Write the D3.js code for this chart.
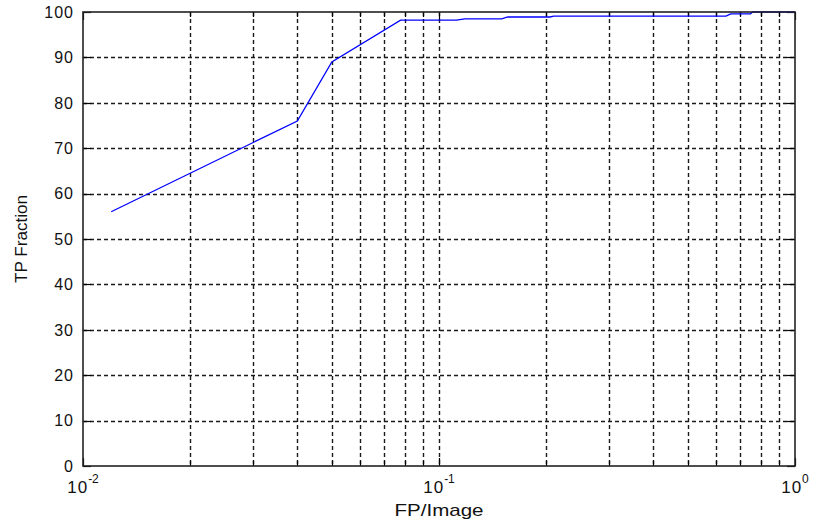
<!DOCTYPE html>
<html>
<head>
<meta charset="utf-8">
<script src="https://cdn.jsdelivr.net/npm/d3@7"></script>
<style>
  html, body { margin: 0; padding: 0; background: #fff; }
  svg { display: block; }
  text { font-family: "Liberation Sans", Arial, sans-serif; fill: #111; }
</style>
</head>
<body>
<svg id="chart" width="814" height="526"></svg>
<script>
// FP per image (log scale) vs. true-positive fraction (%)
const fpPerImage = [0.012, 0.04, 0.05, 0.078, 0.112, 0.118, 0.150, 0.156, 0.205, 0.21, 0.64, 0.66, 0.75, 0.76, 1.0];
const tpFraction = [56, 76, 89, 98.2, 98.2, 98.5, 98.5, 98.9, 98.9, 99.1, 99.1, 99.6, 99.6, 100, 100];

const yTicks = [0, 10, 20, 30, 40, 50, 60, 70, 80, 90, 100];
const xDecades = [0.01, 0.1, 1];
const xDecadeExponents = ["-2", "-1", "0"];
const xMinor = [0.02, 0.03, 0.04, 0.05, 0.06, 0.07, 0.08, 0.09, 0.2, 0.3, 0.4, 0.5, 0.6, 0.7, 0.8, 0.9];

const xLabel = "FP/Image";
const yLabel = "TP Fraction";

const plotL = 83, plotR = 795, plotT = 12, plotB = 466;
const svg = d3.select("#chart");

const x = d3.scaleLog().domain([0.01, 1]).range([plotL, plotR]);
const y = d3.scaleLinear().domain([0, 100]).range([plotB, plotT]);

const gridDash = "4,3";
const gridColor = "#1a1a1a";
const gridWidth = 1.4;

// Vertical grid lines (decades and in-between values)
const vGrid = [...xMinor, 0.1];
svg.append("g")
  .selectAll("line")
  .data(vGrid)
  .join("line")
  .attr("x1", d => Math.round(x(d)) + 0.5)
  .attr("x2", d => Math.round(x(d)) + 0.5)
  .attr("y1", plotT)
  .attr("y2", plotB)
  .attr("stroke", gridColor)
  .attr("stroke-width", gridWidth)
  .attr("stroke-dasharray", gridDash);

// Horizontal grid lines
svg.append("g")
  .selectAll("line")
  .data(yTicks.filter(d => d > 0 && d < 100))
  .join("line")
  .attr("x1", plotL)
  .attr("x2", plotR)
  .attr("y1", d => Math.round(y(d)) + 0.5)
  .attr("y2", d => Math.round(y(d)) + 0.5)
  .attr("stroke", gridColor)
  .attr("stroke-width", gridWidth)
  .attr("stroke-dasharray", gridDash);

// Inward tick marks on all four sides
const tickG = svg.append("g").attr("stroke", "#000").attr("stroke-width", 1.2);
[...xDecades, ...xMinor].forEach(d => {
  const len = xDecades.includes(d) ? 8 : 5;
  const px = Math.round(x(d)) + 0.5;
  tickG.append("line").attr("x1", px).attr("x2", px).attr("y1", plotB).attr("y2", plotB - len);
  tickG.append("line").attr("x1", px).attr("x2", px).attr("y1", plotT).attr("y2", plotT + len);
});
yTicks.forEach(d => {
  const py = Math.round(y(d)) + 0.5;
  tickG.append("line").attr("x1", plotL).attr("x2", plotL + 8).attr("y1", py).attr("y2", py);
  tickG.append("line").attr("x1", plotR).attr("x2", plotR - 8).attr("y1", py).attr("y2", py);
});

// Data line
const line = d3.line()
  .x((d, i) => x(fpPerImage[i]))
  .y(d => y(d));
svg.append("path")
  .datum(tpFraction)
  .attr("d", line)
  .attr("fill", "none")
  .attr("stroke", "#0000ff")
  .attr("stroke-width", 1.3);

// Axes box
svg.append("rect")
  .attr("x", plotL)
  .attr("y", plotT)
  .attr("width", plotR - plotL)
  .attr("height", plotB - plotT)
  .attr("fill", "none")
  .attr("stroke", "#222")
  .attr("stroke-width", 1.6);

// Y tick labels
svg.append("g")
  .selectAll("text")
  .data(yTicks)
  .join("text")
  .attr("x", plotL - 9)
  .attr("y", d => y(d))
  .attr("dy", "0.36em")
  .attr("text-anchor", "end")
  .attr("font-size", 16)
  .attr("letter-spacing", 1)
  .text(d => d);

// X tick labels: 10 with superscript exponent
const xl = svg.append("g")
  .selectAll("text")
  .data(xDecades)
  .join("text")
  .attr("x", d => x(d))
  .attr("y", 493)
  .attr("text-anchor", "middle")
  .attr("font-size", 17);
xl.append("tspan").attr("letter-spacing", 1).text("10");
xl.append("tspan")
  .attr("dy", -10)
  .attr("font-size", 12)
  .text((d, i) => xDecadeExponents[i]);

// Axis titles
svg.append("text")
  .attr("x", (plotL + plotR) / 2)
  .attr("y", 516)
  .attr("text-anchor", "middle")
  .attr("font-size", 17)
  .attr("textLength", 89)
  .attr("lengthAdjust", "spacingAndGlyphs")
  .text(xLabel);

svg.append("text")
  .attr("transform", `translate(27, ${(plotT + plotB) / 2}) rotate(-90)`)
  .attr("text-anchor", "middle")
  .attr("font-size", 17)
  .attr("textLength", 88)
  .attr("lengthAdjust", "spacingAndGlyphs")
  .text(yLabel);
</script>
</body>
</html>
